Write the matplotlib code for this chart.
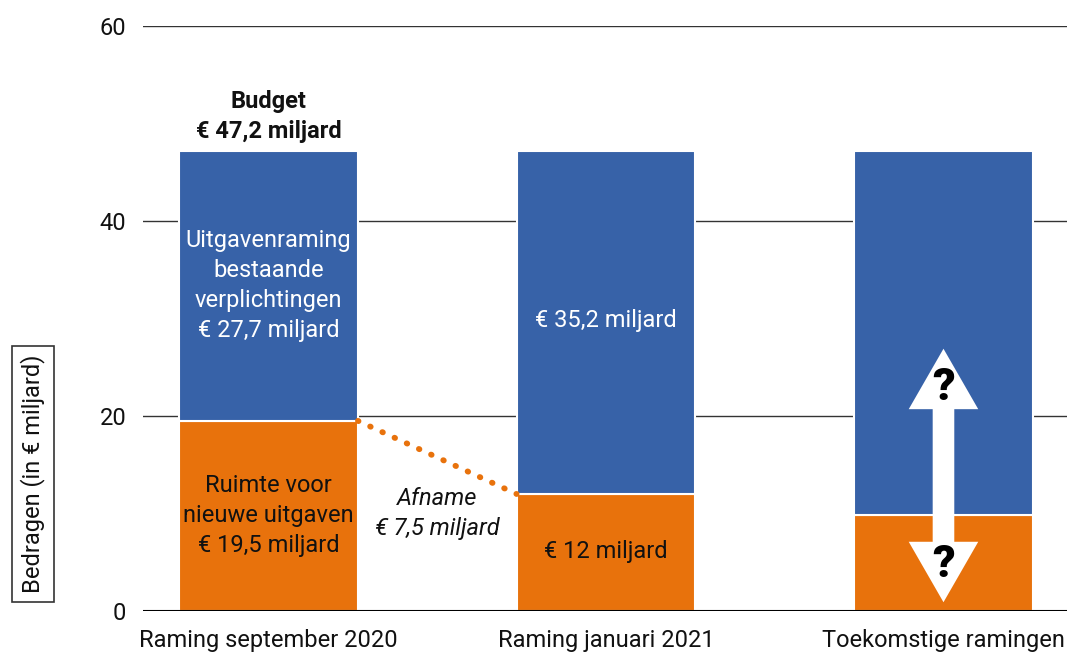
import matplotlib
matplotlib.use("Agg")
import matplotlib.pyplot as plt
from matplotlib.patches import Polygon

plt.rcParams['font.family'] = ['Roboto', 'DejaVu Sans']

categories = ["Raming september 2020", "Raming januari 2021", "Toekomstige ramingen"]
budget = 47.2
orange_vals = [19.5, 12.0, 9.8]
blue_vals = [budget - v for v in orange_vals]
yticks = [0, 20, 40, 60]

BLUE = "#3762A8"
ORANGE = "#E8720C"
FS = 17
LS = 1.4

fig = plt.figure(figsize=(10.67, 6.52), dpi=100)
ax = fig.add_axes([143/1067, 41/652, 1 - 143/1067, (611-26)/652])

x = list(range(len(categories)))
w = 0.53
ax.bar(x, orange_vals, width=w, color=ORANGE, edgecolor="white", linewidth=1.5, zorder=2)
ax.bar(x, blue_vals, width=w, bottom=orange_vals, color=BLUE, edgecolor="white", linewidth=1.5, zorder=2)

ax.set_xlim(-0.372, 2.366)
ax.set_ylim(0, 60)
ax.set_yticks(yticks)
ax.set_xticks(x)
ax.set_xticklabels(categories, fontsize=FS)
ax.tick_params(axis='both', length=0, labelsize=FS, colors="#111111")
ax.tick_params(axis='y', pad=12)
ax.tick_params(axis='x', pad=13)
for s in ax.spines.values():
    s.set_visible(False)
ax.grid(axis='y', color="#333333", linewidth=1.0, zorder=0)
ax.set_axisbelow(True)
ax.axhline(0, color="black", linewidth=1.5, zorder=5)

# dotted decline line
ax.plot([x[0] + w/2, x[1] - w/2], [orange_vals[0], orange_vals[1]], linestyle=(0, (0.1, 2.2)),
        color=ORANGE, linewidth=4.2, solid_capstyle='round', dash_capstyle='round', zorder=3)

# texts
ax.text(x[0], 50.7, "Budget\n€ 47,2 miljard", ha='center', va='center', fontsize=FS,
        fontweight='bold', color="#111111", linespacing=LS)
ax.text(x[0], 33.4, "Uitgavenraming\nbestaande\nverplichtingen\n€ 27,7 miljard", ha='center', va='center',
        fontsize=FS, color="white", linespacing=LS, zorder=4)
ax.text(x[0], 9.8, "Ruimte voor\nnieuwe uitgaven\n€ 19,5 miljard", ha='center', va='center',
        fontsize=FS, color="#111111", linespacing=LS, zorder=4)
ax.text(x[1], 29.8, "€ 35,2 miljard", ha='center', va='center', fontsize=FS, color="white", zorder=4)
ax.text(x[1], 6.1, "€ 12 miljard", ha='center', va='center', fontsize=FS, color="#111111", zorder=4)
ax.text((x[0] + x[1]) / 2, 10.0, "Afname\n€ 7,5 miljard", ha='center', va='center', fontsize=FS,
        style='italic', color="#111111", linespacing=LS, zorder=4)

# double arrow in third bar
cx = x[2]
hw = 0.103   # head half width
sw = 0.032   # shaft half width
top, topbase = 26.9, 20.7
bot, botbase = 0.9, 7.1
pts = [(cx, top), (cx + hw, topbase), (cx + sw, topbase), (cx + sw, botbase), (cx + hw, botbase),
       (cx, bot), (cx - hw, botbase), (cx - sw, botbase), (cx - sw, topbase), (cx - hw, topbase)]
ax.add_patch(Polygon(pts, closed=True, facecolor="white", edgecolor="none", zorder=4))
ax.text(cx, 22.9, "?", ha='center', va='center', fontsize=32, fontweight='black', color="black", zorder=5)
ax.text(cx, 4.7, "?", ha='center', va='center', fontsize=32, fontweight='black', color="black", zorder=5)

# y label in box
fig.text(33/1067, 1 - 474/652, "Bedragen (in € miljard)", rotation=90, ha='center', va='center',
         fontsize=FS, color="#111111",
         bbox=dict(boxstyle='square,pad=0.35', facecolor='white', edgecolor='#333333', linewidth=1.2))

fig.savefig("out.png", dpi=100)
